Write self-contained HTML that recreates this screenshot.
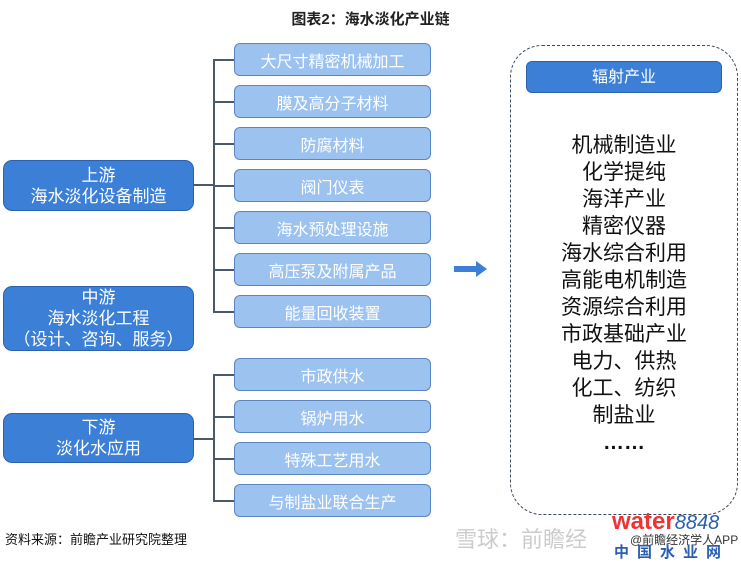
<!DOCTYPE html>
<html><head><meta charset="utf-8"><style>
body{margin:0;width:741px;height:559px;background:#fff;position:relative;overflow:hidden;font-family:"Liberation Sans","Noto Sans CJK SC",sans-serif;}
.a{position:absolute;box-sizing:border-box;display:flex;align-items:center;justify-content:center;text-align:center;color:#fff;}
.d{background:#3b7fd6;border:1.5px solid #2c62ad;border-radius:9px;font-size:17px;line-height:21px;}
.l{background:#9cc2ef;border:1.5px solid #5b86c2;border-radius:6px;font-size:16px;left:234px;width:197px;height:33px;}
.ln{position:absolute;background:#4a5a6a;}
</style></head><body>
<div style="position:absolute;top:8px;left:0;width:741px;text-align:center;font-size:15px;font-weight:bold;color:#222">图表2：海水淡化产业链</div>

<div class="a l" style="top:43px">大尺寸精密机械加工</div>
<div class="a l" style="top:85px">膜及高分子材料</div>
<div class="a l" style="top:127px">防腐材料</div>
<div class="a l" style="top:169px">阀门仪表</div>
<div class="a l" style="top:211px">海水预处理设施</div>
<div class="a l" style="top:253px">高压泵及附属产品</div>
<div class="a l" style="top:295px">能量回收装置</div>

<div class="a l" style="top:358px">市政供水</div>
<div class="a l" style="top:400px">锅炉用水</div>
<div class="a l" style="top:442px">特殊工艺用水</div>
<div class="a l" style="top:484px">与制盐业联合生产</div>

<div class="a d" style="left:3px;top:160px;width:191px;height:51px">上游<br>海水淡化设备制造</div>
<div class="a d" style="left:3px;top:286px;width:191px;height:65px">中游<br>海水淡化工程<br>（设计、咨询、服务）</div>
<div class="a d" style="left:3px;top:413px;width:191px;height:50px">下游<br>淡化水应用</div>

<div class="ln" style="left:194px;top:184px;width:20px;height:1.5px"></div>
<div class="ln" style="left:213px;top:60px;width:1.5px;height:253px"></div>
<div class="ln" style="left:213px;top:59px;width:21px;height:1.5px"></div>
<div class="ln" style="left:213px;top:101px;width:21px;height:1.5px"></div>
<div class="ln" style="left:213px;top:143px;width:21px;height:1.5px"></div>
<div class="ln" style="left:213px;top:185px;width:21px;height:1.5px"></div>
<div class="ln" style="left:213px;top:227px;width:21px;height:1.5px"></div>
<div class="ln" style="left:213px;top:269px;width:21px;height:1.5px"></div>
<div class="ln" style="left:213px;top:311px;width:21px;height:1.5px"></div>

<div class="ln" style="left:194px;top:438px;width:20px;height:1.5px"></div>
<div class="ln" style="left:213px;top:374px;width:1.5px;height:127px"></div>
<div class="ln" style="left:213px;top:374px;width:21px;height:1.5px"></div>
<div class="ln" style="left:213px;top:416px;width:21px;height:1.5px"></div>
<div class="ln" style="left:213px;top:458px;width:21px;height:1.5px"></div>
<div class="ln" style="left:213px;top:500px;width:21px;height:1.5px"></div>

<svg style="position:absolute;left:452px;top:259px" width="38" height="20"><polygon points="2,7 24,7 24,2 35,10 24,18 24,13 2,13" fill="#3b7fd6"/></svg>

<div style="position:absolute;left:510px;top:45px;width:228px;height:470px;box-sizing:border-box;border:1.5px dashed #3b4a5a;border-radius:32px"></div>
<div class="a d" style="left:526px;top:61px;width:196px;height:32px;border-radius:6px;font-size:16px">辐射产业</div>
<div style="position:absolute;left:510px;top:132px;width:228px;text-align:center;font-size:21px;line-height:27px;color:#111">机械制造业<br>化学提纯<br>海洋产业<br>精密仪器<br>海水综合利用<br>高能电机制造<br>资源综合利用<br>市政基础产业<br>电力、供热<br>化工、纺织<br>制盐业<br><b>……</b></div>

<div style="position:absolute;left:5px;top:529px;font-size:13px;color:#111">资料来源：前瞻产业研究院整理</div>
<div style="position:absolute;left:455px;top:522px;font-size:22px;color:#ccc;white-space:nowrap">雪球：前瞻经</div>
<div style="position:absolute;left:612px;top:508px;font-size:24px;font-weight:bold;color:#e33;white-space:nowrap">water<span style="color:#2a5fb0;font-style:italic;font-weight:normal;font-size:20px">8848</span></div>
<div style="position:absolute;left:630px;top:531px;font-size:12px;color:#333;white-space:nowrap">@前瞻经济学人APP</div>
<div style="position:absolute;left:614px;top:541px;font-size:15px;font-weight:bold;color:#2a5fb0;letter-spacing:8px;white-space:nowrap">中国水业网</div>
</body></html>
